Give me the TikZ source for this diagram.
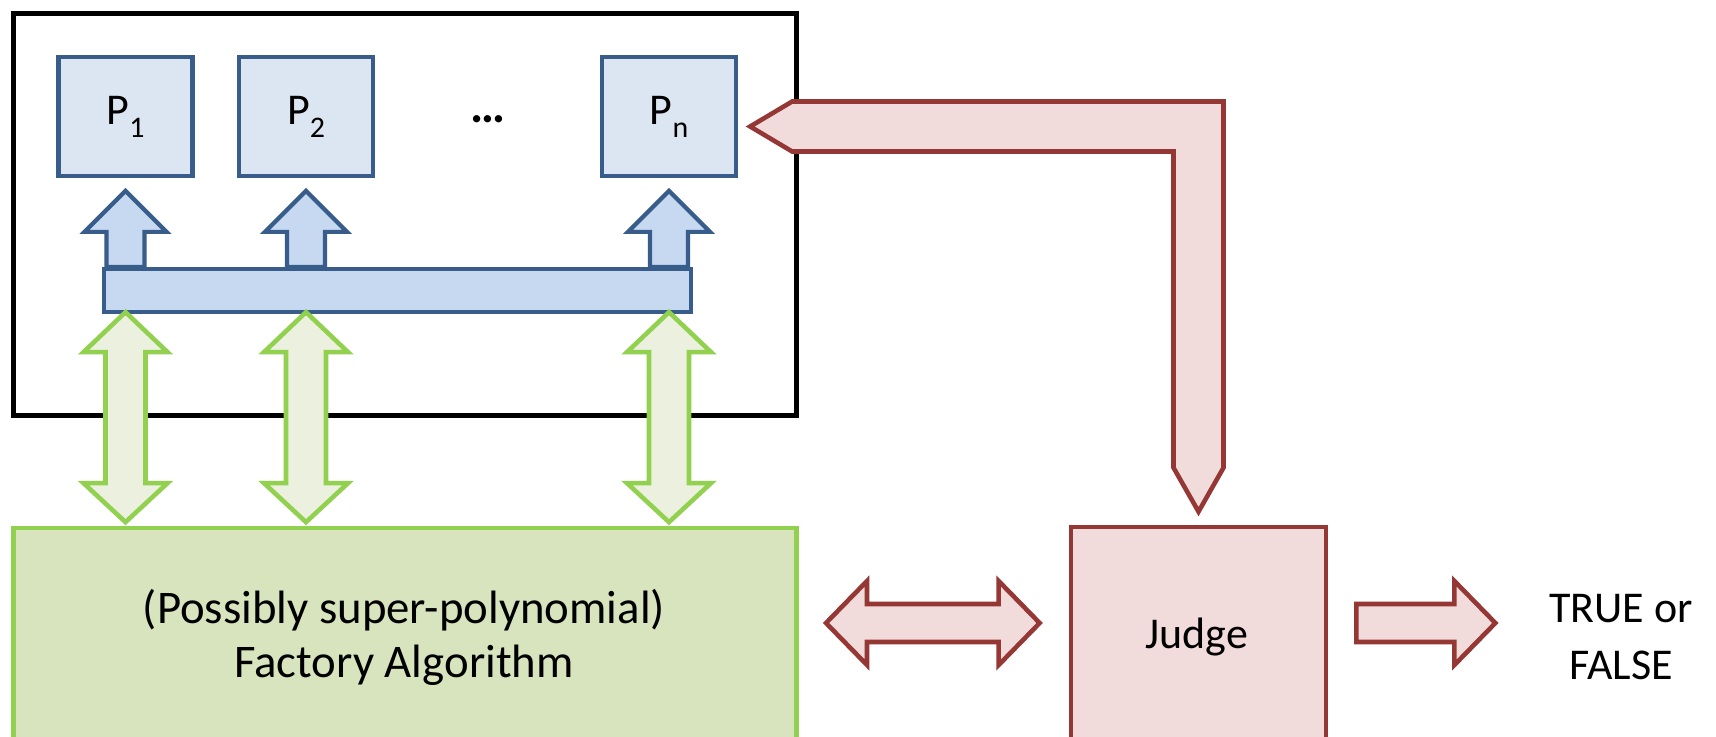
\documentclass[tikz,border=0pt]{standalone}
\usepackage{fontspec}
\setmainfont{Carlito}
\usetikzlibrary{calc}
\usetikzlibrary{positioning}
\definecolor{boxBlue}{RGB}{56,93,138}
\definecolor{paleBlue}{RGB}{220,230,242}
\definecolor{barBlue}{RGB}{198,217,241}
\definecolor{boxGreen}{RGB}{146,208,80}
\definecolor{paleGreen}{RGB}{235,241,222}
\definecolor{facGreen}{RGB}{215,228,189}
\definecolor{boxRed}{RGB}{149,55,53}
\definecolor{paleRed}{RGB}{242,220,219}
\tikzstyle{procbox} = [draw=boxBlue,fill=paleBlue,line width=1.2pt,minimum width=1.34cm,minimum height=1.19cm,inner sep=0pt]
\tikzstyle{bluearrow} = [draw=boxBlue,fill=barBlue,line width=1.2pt]
\tikzstyle{greenarrow} = [draw=boxGreen,fill=paleGreen,line width=1.3pt]
\tikzstyle{redarrow} = [draw=boxRed,fill=paleRed,line width=1.3pt]
\newcommand{\psub}[1]{P\raisebox{-0.13cm}{\fontsize{8.5}{8.5}\selectfont #1}}

\begin{document}
\begin{tikzpicture}[x=0.01cm,y=-0.01cm,font=\fontsize{12.5}{15.4}\selectfont]

  \clip (0,0) rectangle (1716,736); % boxes run off the bottom

  % the provers
  \node[draw,line width=1.4pt,fill=white,minimum width=7.83cm,minimum height=4.02cm,inner sep=0pt] (sys) at (405,214.5) {};
  \node[procbox] (p1) at (125.5,116.5) {\psub{1}};
  \node[procbox] (p2) at (306,116.5) {\psub{2}};
  \node[procbox] (pn) at (669,116.5) {\psub{n}};
  \node[font=\fontsize{14}{15.4}\bfseries] (dots) at (488,119) {…};
  \node[draw=boxBlue,fill=barBlue,line width=1.2pt,minimum width=5.87cm,minimum height=0.43cm,inner sep=0pt] (bar) at (397.5,290.5) {};

  % factory and judge
  \node[draw=boxGreen,fill=facGreen,line width=1.3pt,minimum width=7.83cm,minimum height=2.4cm,inner sep=0pt] (fac) at (405,648) {};
  \node[align=center,font=\fontsize{13.3}{15.4}\selectfont] (factxt) at (404,637) {(Possibly super-polynomial)\\Factory Algorithm};
  \node[draw=boxRed,fill=paleRed,line width=1.3pt,minimum width=2.55cm,minimum height=2.4cm,inner sep=0pt] (judge) at (1198.5,647) {};
  \node (judgetxt) at (1197,637) {Judge};
  \node[align=center,font=\fontsize{12.5}{16.2}\selectfont] (result) at (1621,637) {TRUE or\\FALSE};

  \foreach \p in {p1,p2,pn}{
    \draw[bluearrow] (bar.north -| \p.south) ++(-19,0) -- ++(0,-35) -- ++(-22,0) -- ++(41,-41)
      -- ++(41,41) -- ++(-22,0) -- ++(0,35) -- cycle;
    \draw[greenarrow] (bar.south -| \p.south) ++(0,-2) -- ++(42,40) -- ++(-22,0) -- ++(0,131)
      -- ++(22,0) -- ++(-42,39) -- ++(-42,-39) -- ++(22,0) -- ++(0,-131) -- ++(-22,0) -- cycle;
  }

  % judge talks to the factory
  \coordinate (dl) at ($(fac.east)+(27,-25)$);
  \coordinate (dr) at ($(judge.west)+(-29,-24)$);
  \draw[redarrow] (dl) -- ++(41,-42) -- ++(0,23) -- ($(dr)+(-41,-19)$) -- ++(0,-23) -- (dr)
    -- ++(-41,42) -- ++(0,-23) -- ($(dl)+(41,19)$) -- ++(0,23) -- cycle;

  % verdict
  \coordinate (ja) at ($(judge.east)+(28,-24)$);
  \draw[redarrow] (ja) ++(0,-19) -- ++(98,0) -- ++(0,-23) -- ++(41,42) -- ++(-41,42)
    -- ++(0,-23) -- ++(-98,0) -- cycle;

  % judge sees P_n
  \coordinate (rtip) at ($(pn.east)+(12,10)$);
  \coordinate (dtip) at ($(judge.north)+(0,-13)$);
  \draw[redarrow] (rtip) -- ++(42,-25) -| ($(dtip)+(25,-44)$) -- (dtip) -- ++(-25,-44)
    |- ($(rtip)+(42,25)$) -- cycle;

\end{tikzpicture}
\end{document}
